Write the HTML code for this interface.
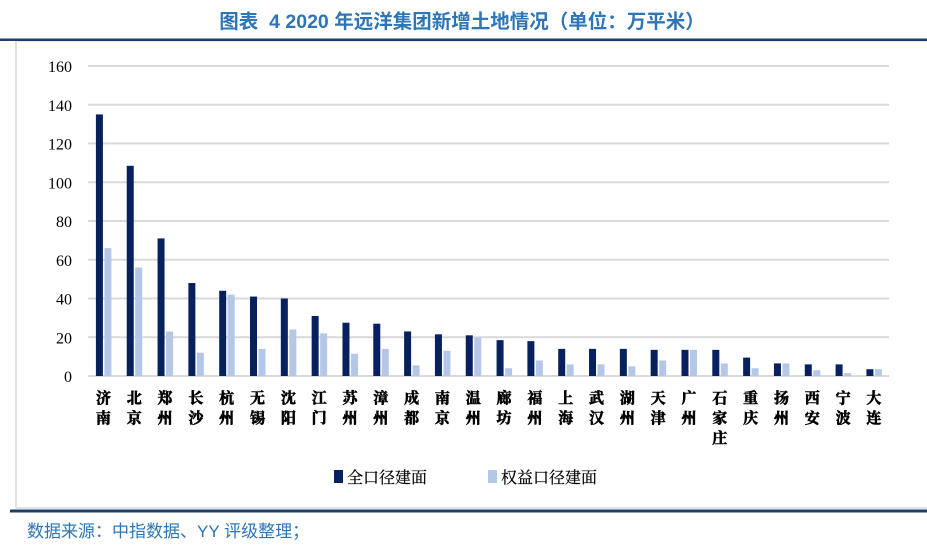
<!DOCTYPE html>
<html><head><meta charset="utf-8"><style>
body{margin:0;width:927px;height:544px;background:#fff;overflow:hidden;font-family:"Liberation Sans","Noto Sans CJK SC",sans-serif}
</style></head><body>
<svg width="927" height="544" xmlns="http://www.w3.org/2000/svg" font-family="Liberation Sans, Noto Sans CJK SC, sans-serif">
<text x="462" y="28" text-anchor="middle" font-size="19.5" font-weight="bold" fill="#2E75B6" xml:space="preserve">图表  4 2020 年远洋集团新增土地情况（单位：万平米）</text>
<rect x="16" y="41" width="920" height="467" fill="none" stroke="#d9d9d9" stroke-width="1.5"/>
<rect x="0" y="38.5" width="927" height="2.5" fill="#1F3F66"/>
<rect x="10" y="509.5" width="927" height="3" fill="#1F3F66"/>
<g stroke="#d9d9d9" stroke-width="2">
<line x1="88" x2="889" y1="66" y2="66"/><line x1="88" x2="889" y1="104.75" y2="104.75"/><line x1="88" x2="889" y1="143.5" y2="143.5"/><line x1="88" x2="889" y1="182.25" y2="182.25"/><line x1="88" x2="889" y1="221" y2="221"/><line x1="88" x2="889" y1="259.75" y2="259.75"/><line x1="88" x2="889" y1="298.5" y2="298.5"/><line x1="88" x2="889" y1="337.25" y2="337.25"/><line x1="88" x2="889" y1="376" y2="376"/>
</g>
<g font-family="Liberation Serif, serif" font-size="16" text-anchor="end" fill="#000">
<text x="72" y="72">160</text><text x="72" y="110.75">140</text><text x="72" y="149.5">120</text><text x="72" y="188.25">100</text><text x="72" y="227">80</text><text x="72" y="265.75">60</text><text x="72" y="304.5">40</text><text x="72" y="343.25">20</text><text x="72" y="382">0</text>
</g>
<g id="bars"></g>
<g id="labels" font-family="Noto Serif CJK SC, serif" font-size="15" font-weight="bold" text-anchor="middle" stroke="#000" stroke-width="0.6"></g>
<rect x="334" y="470" width="9" height="13" fill="#06215E"/>
<text x="347" y="483" font-family="Noto Serif CJK SC, serif" font-size="16" stroke="#000" stroke-width="0.2">全口径建面</text>
<rect x="488" y="470" width="9" height="13" fill="#B4C7E7"/>
<text x="501" y="483" font-family="Noto Serif CJK SC, serif" font-size="16" stroke="#000" stroke-width="0.2">权益口径建面</text>
<text x="27" y="537" font-size="17" fill="#2E75B6">数据来源：中指数据、YY 评级整理；</text>
</svg>
<script>
var names=["济南","北京","郑州","长沙","杭州","无锡","沈阳","江门","苏州","漳州","成都","南京","温州","廊坊","福州","上海","武汉","湖州","天津","广州","石家庄","重庆","扬州","西安","宁波","大连"];
var d=[135,108.5,71,48,44,41,40,31,27.5,27,23,21.5,21,18.5,18,14,14,14,13.5,13.5,13.5,9.5,6.5,6,6,3.5];
var l=[66,56,23,12,42,14,24,22,11.5,14,5.5,13,20,4,8,6,6,5,8,13.5,6.5,4,6.5,3,1.5,3.5];
var ns="http://www.w3.org/2000/svg",b=document.getElementById("bars"),lb=document.getElementById("labels");
function r(x,v,c){var e=document.createElementNS(ns,"rect");var h=v*1.9375;e.setAttribute("x",x);e.setAttribute("y",376-h);e.setAttribute("width",7);e.setAttribute("height",h);e.setAttribute("fill",c);b.appendChild(e);}
for(var i=0;i<26;i++){var c=88+30.82*(i+0.5);r(c-7.5,d[i],"#06215E");r(c+1,l[i],"#B4C7E7");
for(var k=0;k<names[i].length;k++){var t=document.createElementNS(ns,"text");t.setAttribute("x",c);t.setAttribute("y",403+k*20);t.textContent=names[i][k];lb.appendChild(t);}}
</script>
</body></html>
